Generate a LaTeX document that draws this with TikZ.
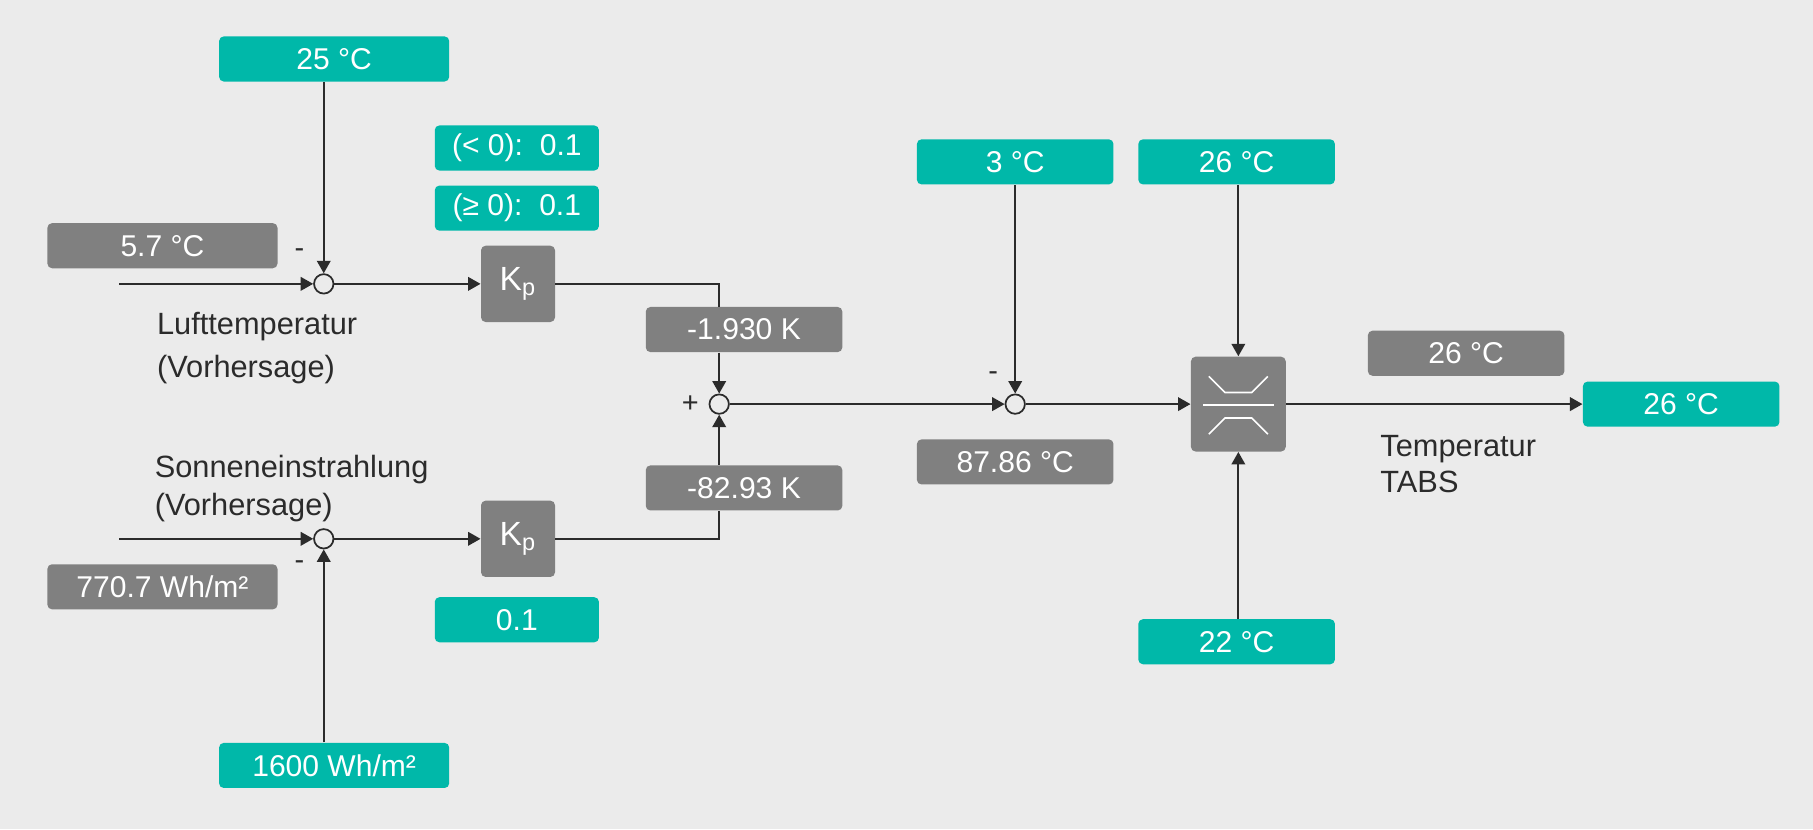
\documentclass[tikz,border=0pt]{standalone}
\usepackage{fontspec}
\setmainfont{Liberation Sans}
\usetikzlibrary{arrows.meta,positioning}
\definecolor{tealbg}{HTML}{00B8A9}
\definecolor{greybg}{HTML}{808080}
\definecolor{pagebg}{HTML}{EBEBEB}
\definecolor{linec}{HTML}{2B2B2B}
\tikzset
{
    valbox/.style   = {rounded corners=2pt, text=white, inner sep=0pt, minimum height=19.5pt, font=\fontsize{13}{15}\selectfont},
    setbox/.style   = {valbox, fill=tealbg},
    outbox/.style   = {valbox, fill=greybg},
    boxwide/.style  = {minimum width=99.5pt},
    boxmid/.style   = {minimum width=85pt},
    boxsmall/.style = {minimum width=71pt},
    gainbox/.style  = {rounded corners=2pt, fill=greybg, text=white, inner sep=0pt, minimum width=32pt, minimum height=33pt, font=\fontsize{14.5}{16}\selectfont},
    sumnode/.style  = {circle, draw=linec, line width=0.75pt, inner sep=0pt, minimum size=8.4pt},
    signtext/.style = {text=linec, inner sep=0pt, font=\fontsize{12.5}{15}\selectfont},
    labeltext/.style= {text=linec, align=left, inner sep=0pt, anchor=north west},
    conn/.style     = {draw=linec, line width=0.75pt, -{Triangle[length=5.4pt,width=5.9pt]}},
    wire/.style     = {draw=linec, line width=0.75pt}
}
\begin{document}
\begin{tikzpicture}[x=0.5pt,y=-0.5pt]
\fill[pagebg] (0,0) rectangle (1568,717);
% Lufttemperatur branch
\node [setbox, boxwide] at (289,51) (t25) {25 °C};
\node [setbox, boxsmall] at (447,128) (lt0) {(< 0):\ \ 0.1};
\node [setbox, boxsmall] at (447,180) (ge0) {(≥ 0):\ \ 0.1};
\node [outbox, boxwide] at (140.5,212.5) (g57) {5.7 °C};
\node [sumnode] at (280,245.5) (sum1) {};
\node [gainbox] at (448,245.5) (kp1) {K\textsubscript{p}};
\node [signtext] at (259,219) (m1) {-};
\node [labeltext, font=\fontsize{13.3}{18.6}\selectfont] at (135.5,269.5) (luft) {Lufttemperatur\\(Vorhersage)};
\coordinate (in1) at (103,245.5);
% Sonneneinstrahlung branch
\node [labeltext, font=\fontsize{13.3}{16.5}\selectfont] at (133.5,393) (sonne) {Sonneneinstrahlung\\(Vorhersage)};
\node [sumnode] at (280,466) (sum0) {};
\node [gainbox] at (448,466) (kp2) {K\textsubscript{p}};
\node [signtext] at (259,489) (m0) {-};
\node [outbox, boxwide] at (140.5,507.5) (g770) {770.7 Wh/m²};
\node [setbox, boxsmall] at (447,536) (t01) {0.1};
\node [setbox, boxwide] at (289,662) (t1600) {1600 Wh/m²};
\coordinate (in0) at (103,466);
% Summe
\node [outbox, boxmid] at (643.5,285) (g1930) {-1.930 K};
\node [outbox, boxmid] at (643.5,422) (g8293) {-82.93 K};
\node [sumnode] at (622,349.5) (sum2) {};
\node [signtext] at (597,349.5) (p2) {+};
% Offset
\node [setbox, boxmid] at (878,140) (t3) {3 °C};
\node [sumnode] at (878,349.5) (sum3) {};
\node [signtext] at (859,325) (m3) {-};
\node [outbox, boxmid] at (878,399.5) (g8786) {87.86 °C};
% Begrenzung
\node [setbox, boxmid] at (1069.5,140) (t26a) {26 °C};
\node [setbox, boxmid] at (1069.5,555) (t22) {22 °C};
\node [rounded corners=2pt, fill=greybg, minimum size=41pt, inner sep=0pt] at (1071,349.5) (lim) {};
\draw[white, line width=0.7pt] ([shift={(-25.5,-24)}]lim.center) -- ++(14,14) -- ++(23,0) -- ++(14,-14);
\draw[white, line width=0.7pt] ([shift={(-30.5,1)}]lim.center) -- ++(61,0);
\draw[white, line width=0.7pt] ([shift={(-25.5,26)}]lim.center) -- ++(14,-14) -- ++(23,0) -- ++(14,14);
\node [outbox, boxmid] at (1268,305.5) (g26) {26 °C};
\node [setbox, boxmid] at (1454,349.5) (tout) {26 °C};
\node [labeltext, font=\fontsize{13.3}{15.6}\selectfont] at (1193.5,376) (tabs) {Temperatur\\TABS};
% connections
\draw[conn] (in1) -- (sum1);
\draw[conn] (sum1 |- t25.south) -- (sum1);
\draw[conn] (sum1) -- (kp1);
\draw[wire] (kp1.east) -| (sum2 |- g1930.north);
\draw[conn] (sum2 |- g1930.south) -- (sum2);
\draw[conn] (in0) -- (sum0);
\draw[conn] (sum0 |- t1600.north) -- (sum0);
\draw[conn] (sum0) -- (kp2);
\draw[wire] (kp2.east) -| (sum2 |- g8293.south);
\draw[conn] (sum2 |- g8293.north) -- (sum2);
\draw[conn] (sum2) -- (sum3);
\draw[conn] (t3) -- (sum3);
\draw[conn] (sum3) -- (lim);
\draw[conn] (lim |- t26a.south) -- (lim);
\draw[conn] (lim |- t22.north) -- (lim);
\draw[conn] (lim) -- (tout);
\end{tikzpicture}
\end{document}
